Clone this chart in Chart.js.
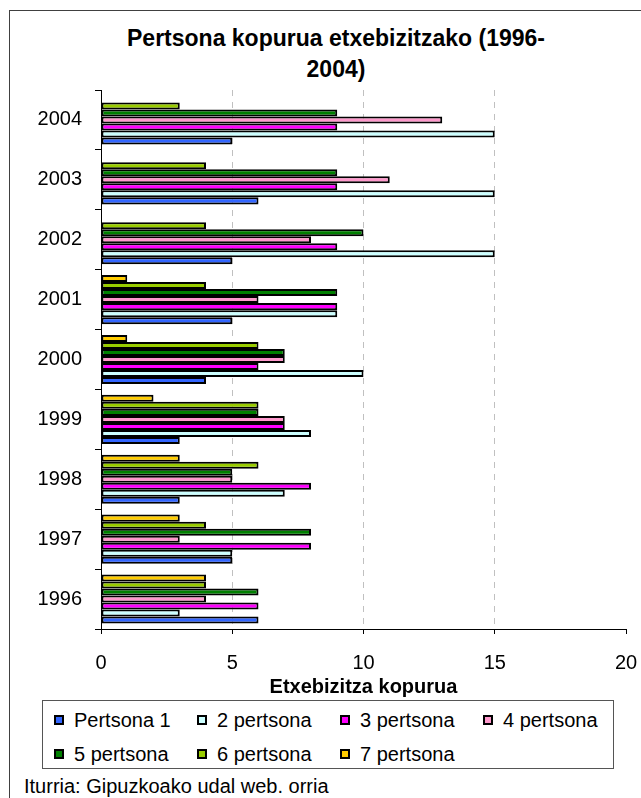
<!DOCTYPE html>
<html>
<head>
<meta charset="utf-8">
<script src="https://cdn.jsdelivr.net/npm/chart.js@4"></script>
<style>
  body { margin: 0; background: #fff; font-family: "Liberation Sans", Arial, sans-serif; }
  #page { position: relative; width: 641px; height: 798px; overflow: hidden; }
  #frame { position: absolute; left: 9px; top: 10px; width: 700px; height: 800px; border: 1px solid #404040; }
  #title { position: absolute; left: 0; top: 23px; width: 672px; text-align: center; font-weight: bold; font-size: 23px; line-height: 31px; color: #000; }
  #chart { position: absolute; left: 0; top: 0; }
  #legend { position: absolute; left: 42px; top: 700px; width: 572px; height: 69px; border: 1px solid #555; box-sizing: border-box; }
  .item { position: absolute; font-size: 20px; line-height: 24px; color: #000; white-space: nowrap; }
  .box { position: absolute; width: 10px; height: 10px; border: 2px solid #000; box-sizing: border-box; }
  #source { position: absolute; left: 24px; top: 774px; font-size: 20px; line-height: 24px; color: #000; }
</style>
</head>
<body>
<div id="page">
  <div id="frame"></div>
  <div id="title">Pertsona kopurua etxebizitzako (1996-<br>2004)</div>
  <canvas id="chart" width="641" height="700"></canvas>
  <div id="legend"></div>
  <div id="source">Iturria: Gipuzkoako udal web. orria</div>
</div>
<script>
// years, bottom (1996) to top (2004)
const years = ["1996", "1997", "1998", "1999", "2000", "2001", "2002", "2003", "2004"];

const seriesNames = ["Pertsona 1", "2 pertsona", "3 pertsona", "4 pertsona", "5 pertsona", "6 pertsona", "7 pertsona"];
const seriesColors = ["#3366ff", "#ccffff", "#ff00ff", "#ff99cc", "#008000", "#99cc00", "#ffcc00"];

const pertsona1 = [6, 5, 3, 3, 4, 5, 5, 6, 5];
const pertsona2 = [3, 5, 7, 8, 10, 9, 15, 15, 15];
const pertsona3 = [6, 8, 8, 7, 6, 9, 9, 9, 9];
const pertsona4 = [4, 3, 5, 7, 7, 6, 8, 11, 13];
const pertsona5 = [6, 8, 5, 6, 7, 9, 10, 9, 9];
const pertsona6 = [4, 4, 6, 6, 6, 4, 4, 4, 3];
const pertsona7 = [4, 3, 3, 2, 1, 1, 0, 0, 0];

const xTicks = [0, 5, 10, 15, 20];

const seriesValues = [pertsona1, pertsona2, pertsona3, pertsona4, pertsona5, pertsona6, pertsona7];

const font = "'Liberation Sans', Arial, sans-serif";

// order reversed so "Pertsona 1" sits at the bottom of each group
const datasets = seriesNames.map((name, i) => ({
    label: name,
    data: seriesValues[i],
    order: seriesNames.length - i,
    backgroundColor: seriesColors[i],
    borderColor: "#000",
    borderWidth: 2,
    borderSkipped: false,
    categoryPercentage: 0.82,
    barPercentage: 1.0
}));

new Chart(document.getElementById("chart").getContext("2d"), {
    type: "bar",
    data: { labels: years, datasets: datasets },
    options: {
        indexAxis: "y",
        responsive: false,
        animation: false,
        devicePixelRatio: 1,
        layout: { padding: { top: 90, right: 15, bottom: 0, left: 0 } },
        plugins: {
            legend: { display: false },
            tooltip: { enabled: false }
        },
        scales: {
            y: {
                reverse: true,
                afterFit: (s) => { s.width = 101; },
                grid: { drawOnChartArea: false, drawTicks: true, tickLength: 6, tickColor: "#000", offset: true },
                border: { color: "#000", width: 1 },
                ticks: { color: "#000", padding: 13, font: { family: font, size: 20 } }
            },
            x: {
                min: 0,
                max: 20,
                afterFit: (s) => { s.height = 71; s.paddingRight = 15; },
                afterBuildTicks: (s) => { s.ticks = xTicks.map(v => ({ value: v })); },
                grid: {
                    drawTicks: true,
                    tickLength: 5,
                    tickColor: "#000",
                    color: (ctx) => (ctx.tick && ctx.tick.value > 0 && ctx.tick.value < 20) ? "#c0c0c0" : "rgba(0,0,0,0)"
                },
                border: { color: "#000", width: 1, dash: [6, 6] },
                ticks: { color: "#000", padding: 17, font: { family: font, size: 20 } },
                title: {
                    display: true,
                    text: "Etxebizitza kopurua",
                    color: "#000",
                    font: { family: font, size: 20, weight: "bold" },
                    padding: { top: 0, bottom: 1 }
                }
            }
        }
    }
});

// legend, 4 items per row
const legend = document.getElementById("legend");
seriesNames.forEach((name, i) => {
    const col = i % 4, row = Math.floor(i / 4);
    const left = 11 + col * 143;
    const cy = 19 + row * 34;
    const box = document.createElement("div");
    box.className = "box";
    box.style.left = left + "px";
    box.style.top = (cy - 5) + "px";
    box.style.background = seriesColors[i];
    legend.appendChild(box);
    const t = document.createElement("div");
    t.className = "item";
    t.style.left = (left + 20) + "px";
    t.style.top = (cy - 12) + "px";
    t.textContent = name;
    legend.appendChild(t);
});
</script>
</body>
</html>
